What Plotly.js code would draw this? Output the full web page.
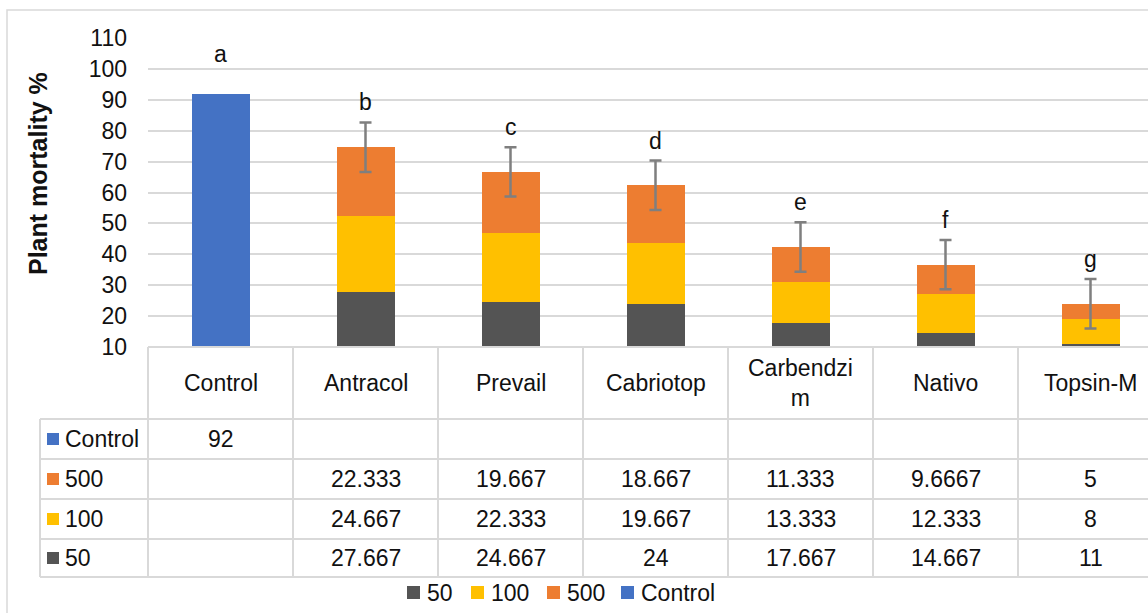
<!DOCTYPE html>
<html>
<head>
<meta charset="utf-8">
<script src="https://cdn.plot.ly/plotly-3.0.1.min.js"></script>
<style>
html, body { margin: 0; padding: 0; overflow: hidden; background: #fff; }
#chart { width: 1180px; height: 613px; }
</style>
</head>
<body>
<div id="chart"></div>
<script>
// ---- data ----
const categories = ['Control', 'Antracol', 'Prevail', 'Cabriotop', 'Carbendzim', 'Nativo', 'Topsin-M'];
const headerLabels = ['Control', 'Antracol', 'Prevail', 'Cabriotop', 'Carbendzi<br>m', 'Nativo', 'Topsin-M'];
const controlValues = [92, null, null, null, null, null, null];
const dose500 = [null, 22.333, 19.667, 18.667, 11.333, 9.6667, 5];
const dose100 = [null, 24.667, 22.333, 19.667, 13.333, 12.333, 8];
const dose50 = [null, 27.667, 24.667, 24, 17.667, 14.667, 11];
const errorValues = [null, 8, 8, 8, 8, 8, 8];
const letters = ['a', 'b', 'c', 'd', 'e', 'f', 'g'];
const yTicks = [10, 20, 30, 40, 50, 60, 70, 80, 90, 100, 110];

// ---- styling ----
const FONT = 'Liberation Sans, Arial, Helvetica, sans-serif';
const C50 = '#545454', C100 = '#FFC000', C500 = '#ED7D31', CCTRL = '#4472C4';
const GRID = '#d9d9d9';
const TXT = '#111111';

// layout geometry (pixels)
const W = 1180, H = 613;
const L = 148, R = 1163, T = 38, B = 347;
const px = p => (p - L) / (R - L);
const py = p => (B - p) / (B - T);

const totals = categories.map((c, i) => {
  if (controlValues[i] != null) return controlValues[i];
  return (dose50[i] || 0) + (dose100[i] || 0) + (dose500[i] || 0);
});

const traces = [
  { type: 'bar', name: '50', x: categories, y: dose50, marker: { color: C50 }, hoverinfo: 'x+y+name' },
  { type: 'bar', name: '100', x: categories, y: dose100, marker: { color: C100 }, hoverinfo: 'x+y+name' },
  { type: 'bar', name: '500', x: categories, y: dose500, marker: { color: C500 }, hoverinfo: 'x+y+name' },
  { type: 'bar', name: 'Control', x: categories, y: controlValues, marker: { color: CCTRL }, hoverinfo: 'x+y+name' },
  {
    type: 'scatter', mode: 'markers', showlegend: false, hoverinfo: 'skip',
    x: categories.filter((c, i) => errorValues[i] != null),
    y: totals.filter((t, i) => errorValues[i] != null),
    marker: { opacity: 0, size: 1 },
    error_y: { type: 'data', array: errorValues.filter(e => e != null), visible: true,
               color: '#7f7f7f', thickness: 2.5, width: 6 }
  }
];

const shapes = [];
const annotations = [];
const lineStyle = { color: GRID, width: 2 };

// outer chart border
shapes.push({ type: 'rect', xref: 'paper', yref: 'paper', x0: px(7), x1: px(1200), y0: py(10), y1: py(650),
              line: { color: GRID, width: 1.5 }, layer: 'below' });

// table: top line (axis)
shapes.push({ type: 'line', xref: 'paper', yref: 'paper', x0: 0, x1: px(1200), y0: 0, y1: 0, line: lineStyle });
// row lines
const rowLines = [419, 459, 499, 539, 577];
rowLines.forEach(r => shapes.push({ type: 'line', xref: 'paper', yref: 'paper',
  x0: px(40), x1: px(1200), y0: py(r), y1: py(r), line: lineStyle }));
// column lines
for (let k = 0; k <= categories.length; k++) {
  shapes.push({ type: 'line', xref: 'paper', yref: 'paper', x0: k / categories.length, x1: k / categories.length,
    y0: 0, y1: py(577), line: lineStyle });
}
shapes.push({ type: 'line', xref: 'paper', yref: 'paper', x0: px(40), x1: px(40), y0: py(419), y1: py(577), line: lineStyle });

// header labels
headerLabels.forEach((lab, i) => annotations.push({
  xref: 'paper', yref: 'paper', x: (i + 0.5) / categories.length, y: py(383),
  text: lab, showarrow: false, xanchor: 'center', yanchor: 'middle',
  font: { family: FONT, size: 23, color: TXT }
}));

// table rows
const tableRows = [
  { name: 'Control', color: CCTRL, values: controlValues, center: 439 },
  { name: '500', color: C500, values: dose500, center: 479 },
  { name: '100', color: C100, values: dose100, center: 519 },
  { name: '50', color: C50, values: dose50, center: 558 }
];
tableRows.forEach(row => {
  shapes.push({ type: 'rect', xref: 'paper', yref: 'paper', x0: px(47), x1: px(59),
    y0: py(row.center - 6), y1: py(row.center + 6), fillcolor: row.color, line: { width: 0 } });
  annotations.push({ xref: 'paper', yref: 'paper', x: px(63), y: py(row.center), text: row.name,
    showarrow: false, xanchor: 'left', yanchor: 'middle', font: { family: FONT, size: 23, color: TXT } });
  row.values.forEach((v, i) => {
    if (v == null) return;
    annotations.push({ xref: 'paper', yref: 'paper', x: (i + 0.5) / categories.length, y: py(row.center),
      text: String(v), showarrow: false, xanchor: 'center', yanchor: 'middle',
      font: { family: FONT, size: 23, color: TXT } });
  });
});

// significance letters
letters.forEach((l, i) => annotations.push({
  x: categories[i], y: totals[i] + (errorValues[i] || 0), xref: 'x', yref: 'y',
  text: l, showarrow: false, xanchor: 'center', yanchor: 'bottom',
  yshift: errorValues[i] ? 5 : 25,
  font: { family: FONT, size: 23, color: TXT }
}));

// y-axis title
annotations.push({ xref: 'paper', yref: 'paper', x: px(38), y: py(174), text: '<b>Plant mortality %</b>',
  textangle: -90, showarrow: false, xanchor: 'center', yanchor: 'middle',
  font: { family: FONT, size: 25, color: TXT } });

// bottom legend (order 50, 100, 500, Control)
const legendItems = [
  { name: '50', color: C50, sq: 407 },
  { name: '100', color: C100, sq: 471 },
  { name: '500', color: C500, sq: 547 },
  { name: 'Control', color: CCTRL, sq: 621 }
];
legendItems.forEach(it => {
  shapes.push({ type: 'rect', xref: 'paper', yref: 'paper', x0: px(it.sq), x1: px(it.sq + 13),
    y0: py(586), y1: py(599), fillcolor: it.color, line: { width: 0 } });
  annotations.push({ xref: 'paper', yref: 'paper', x: px(it.sq + 18), y: py(592.5), text: it.name,
    showarrow: false, xanchor: 'left', yanchor: 'middle', font: { family: FONT, size: 23, color: TXT } });
});

const layout = {
  width: W, height: H,
  margin: { l: L, r: W - R, t: T, b: H - B, pad: 0 },
  paper_bgcolor: '#fff', plot_bgcolor: '#fff',
  barmode: 'stack', bargap: 0.6,
  showlegend: false,
  xaxis: { type: 'category', showticklabels: false, showgrid: false, zeroline: false, showline: false,
           ticks: '', range: [-0.5, categories.length - 0.5], fixedrange: true },
  yaxis: { range: [10, 110], tickvals: yTicks, ticktext: yTicks.map(String), showgrid: true,
           gridcolor: GRID, gridwidth: 2, zeroline: false, showline: false, ticks: '',
           ticklabelstandoff: 20,
           tickfont: { family: FONT, size: 23, color: TXT }, fixedrange: true },
  font: { family: FONT, color: TXT },
  shapes: shapes,
  annotations: annotations
};

Plotly.newPlot('chart', traces, layout, { displayModeBar: false, staticPlot: true });
</script>
</body>
</html>
